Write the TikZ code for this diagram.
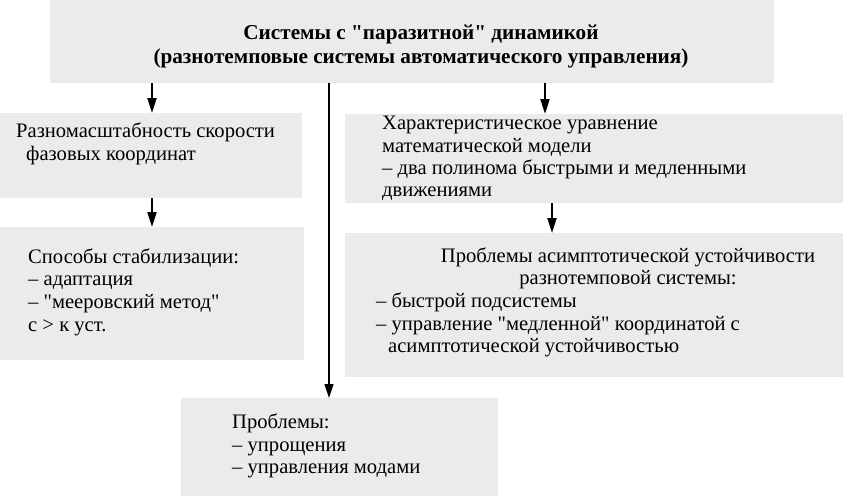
\documentclass[tikz,border=0pt]{standalone}
\usepackage{fontspec}
\setmainfont{Liberation Serif}
\usepackage{tikz}
\usetikzlibrary{arrows.meta}

\definecolor{boxgray}{RGB}{235,235,235}
\newcommand{\qq}{\textquotedbl}

\tikzset{
    box/.style={rectangle,fill=boxgray,draw=none,inner sep=0pt,outer sep=0pt,anchor=north west},
    txt/.style={inner sep=0pt,align=left,font=\fontsize{20.6}{22.6}\selectfont},
    arr/.style={-{Triangle[length=15pt,width=9pt]},line width=2pt},
    thinarr/.style={-{Triangle[length=14pt,width=9pt]},line width=1.3pt}
}

\begin{document}
\begin{tikzpicture}[x=1pt,y=-1pt]
        \useasboundingbox (0,0) rectangle (844,496);
        % boxes
        \node[box,minimum width=724pt,minimum height=83pt] (top) at (50,0) {};
        \node[box,minimum width=302pt,minimum height=85pt] (left1) at (0,113) {};
        \node[box,minimum width=304pt,minimum height=133pt] (left2) at (0,227) {};
        \node[box,minimum width=498pt,minimum height=89pt] (right1) at (345,114) {};
        \node[box,minimum width=498pt,minimum height=144pt] (right2) at (345,233) {};
        \node[box,minimum width=317pt,minimum height=98pt] (bottom) at (181,398) {};
        % texts
        \node[txt,align=center,font=\fontsize{21.2}{24}\selectfont\bfseries] (toptext) at (421,46.5)
            {Системы с \qq паразитной\qq{} динамикой\\(разнотемповые системы автоматического управления)};
        \node[txt,anchor=west] (lefttext1) at (16,144)
            {Разномасштабность скорости\\\hspace*{10pt}фазовых координат};
        \node[txt,anchor=west] (lefttext2) at (28,292)
            {Способы стабилизации:\\– адаптация\\– \qq мееровский метод\qq\\с > к уст.};
        \node[txt,anchor=west,font=\fontsize{20.6}{22.4}\selectfont] (righttext1) at (382,158.5)
            {Характеристическое уравнение\\математической модели\\– два полинома быстрыми и медленными\\движениями};
        \node[txt,align=center] (righthead2) at (628,268.5)
            {Проблемы асимптотической устойчивости\\разнотемповой системы:};
        \node[txt,anchor=west] (righttext2) at (376,325)
            {– быстрой подсистемы\\– управление \qq медленной\qq{} координатой с\\\hspace*{12pt}асимптотической устойчивостью};
        \node[txt,anchor=west] (bottomtext) at (232,446)
            {Проблемы:\\– упрощения\\– управления модами};
        % arrows
        \coordinate (xl) at (152,0);
        \coordinate (xm) at (329,0);
        \coordinate (xr) at (545,0);
        \coordinate (xr2) at (552,0);
        \draw[arr] (top.south -| xl) -- (left1.north -| xl);
        \draw[arr] (top.south -| xr) -- (right1.north -| xr);
        \draw[arr] (left1.south -| xl) -- (left2.north -| xl);
        \draw[arr] (right1.south -| xr2) -- (right2.north -| xr2);
        \draw[thinarr] (top.south -| xm) -- (bottom.north -| xm);
    \end{tikzpicture}
\end{document}
